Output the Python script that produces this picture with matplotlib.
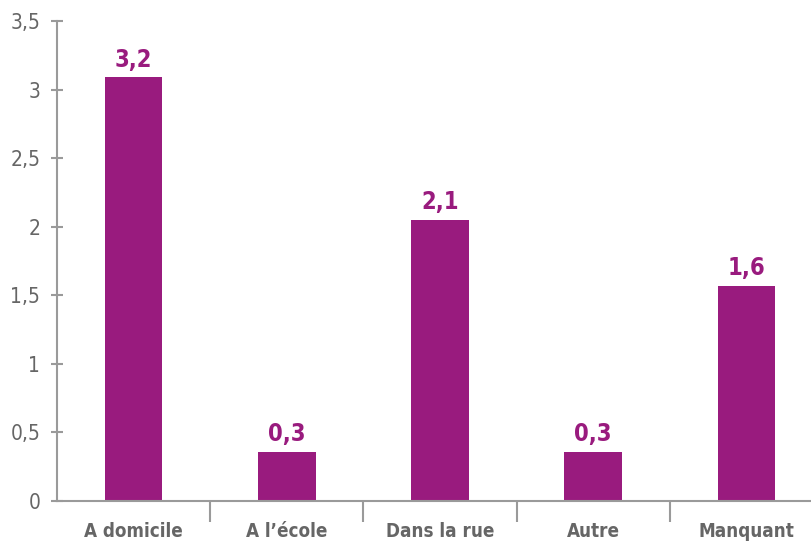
import matplotlib
matplotlib.use("Agg")
import matplotlib.pyplot as plt

categories = ["A domicile", "A l\u2019\u00e9cole", "Dans la rue", "Autre", "Manquant"]
values = [3.09, 0.36, 2.05, 0.36, 1.57]
value_labels = ["3,2", "0,3", "2,1", "0,3", "1,6"]
yticks = [0, 0.5, 1, 1.5, 2, 2.5, 3, 3.5]
ytick_labels = ["0", "0,5", "1", "1,5", "2", "2,5", "3", "3,5"]

plt.rcParams['font.family'] = ["DejaVu Sans"]
plt.rcParams['font.stretch'] = "condensed"

purple = "#991B7E"
gray_axis = "#9a9a9a"
gray_text = "#666666"

fig = plt.figure(figsize=(8.12, 5.42), dpi=100)
W, H = 812, 542
left, right, top, bottom = 57, 823, 21, 501
ax = fig.add_axes([left / W, (H - bottom) / H, (right - left) / W, (bottom - top) / H])

x = list(range(len(categories)))
ax.bar(x, values, width=0.375, color=purple)
ax.set_xlim(-0.5, len(categories) - 0.5)
ax.set_ylim(0, 3.5)

for s in ["top", "right"]:
    ax.spines[s].set_visible(False)
for s in ["left", "bottom"]:
    ax.spines[s].set_color(gray_axis)
    ax.spines[s].set_linewidth(1.5)

ax.set_yticks(yticks)
ax.set_yticklabels(ytick_labels, fontsize=15, color=gray_text, fontstretch="condensed")
ax.tick_params(axis="y", direction="inout", length=8, width=1.5, color=gray_axis, pad=8)

ax.set_xticks(x)
ax.set_xticklabels(categories, fontsize=13.5, fontweight="bold", color=gray_text, fontstretch="condensed")
ax.tick_params(axis="x", which="major", length=0, pad=15)
ax.set_xticks([i + 0.5 for i in x[:-1]], minor=True)
ax.tick_params(axis="x", which="minor", direction="out", length=15, width=1.5, color=gray_axis)

for xi, v, lab in zip(x, values, value_labels):
    ax.annotate(lab, (xi, v), xytext=(0, 4), textcoords="offset points",
                ha="center", va="bottom", fontsize=17, fontweight="bold", color=purple,
                fontstretch="condensed")

fig.savefig("out.png", dpi=100)
